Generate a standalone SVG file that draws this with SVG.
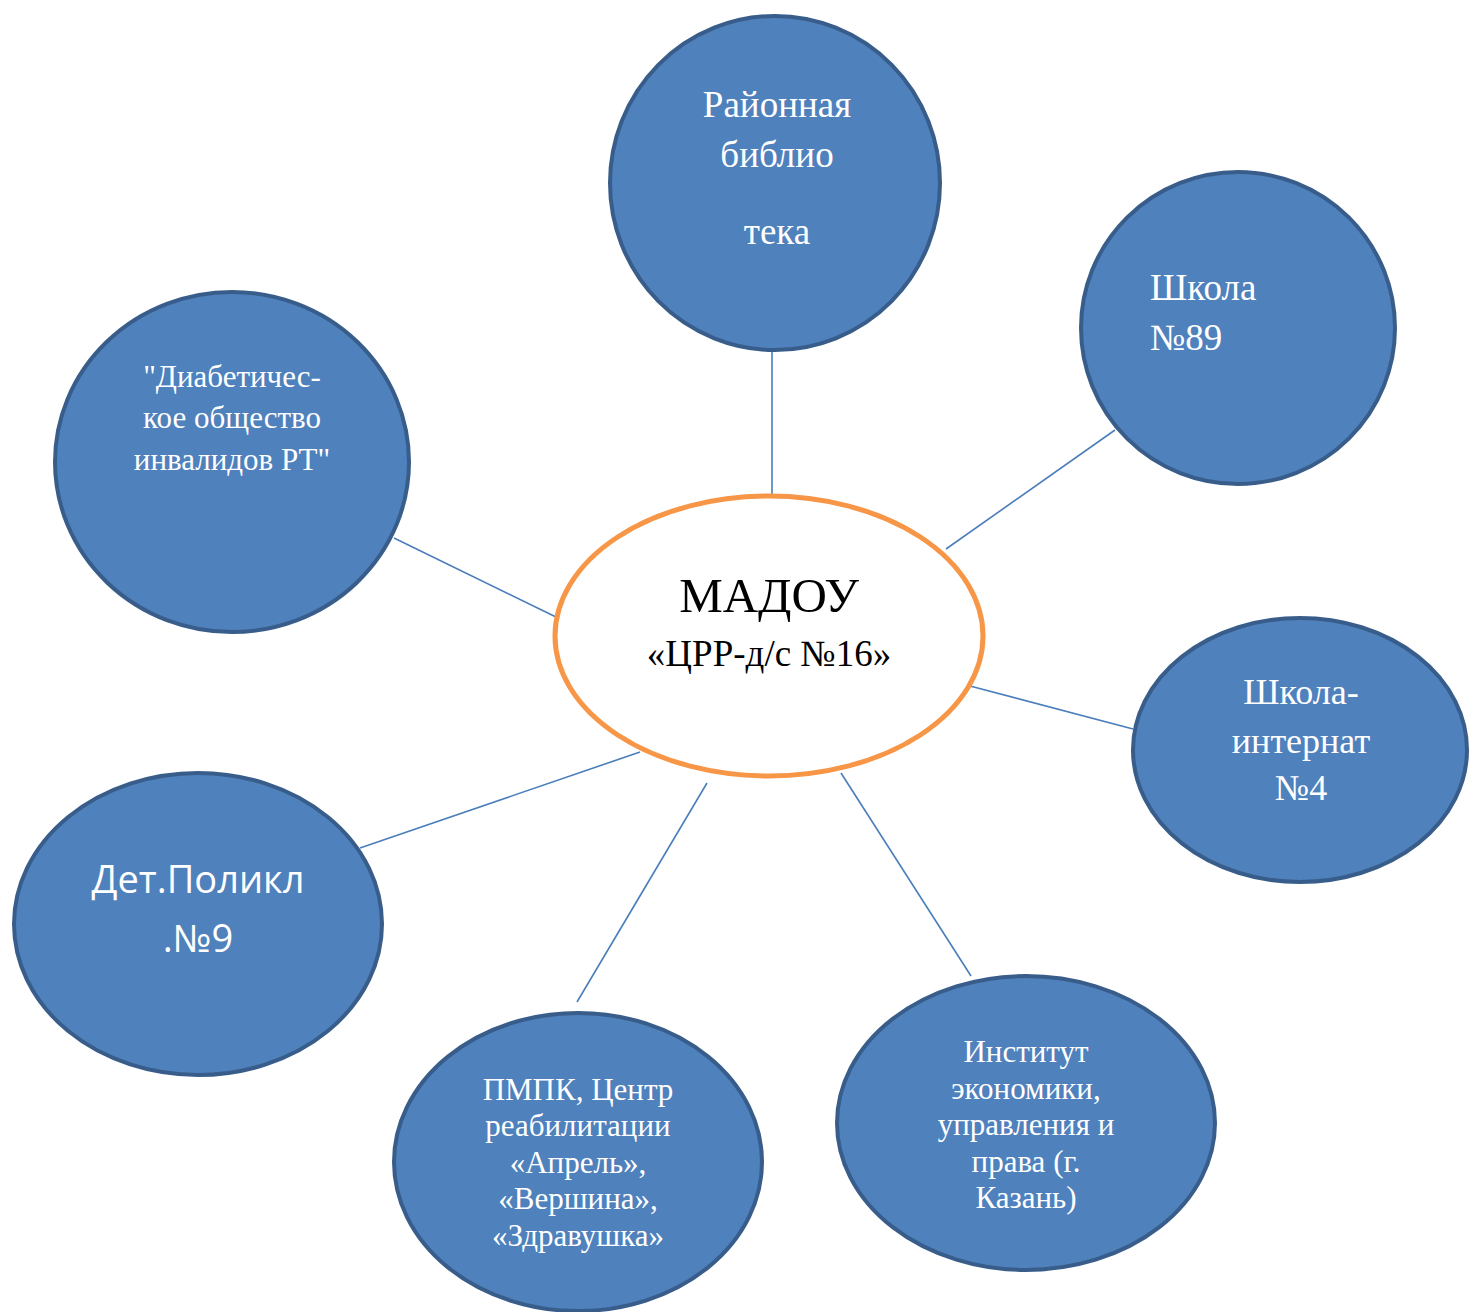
<svg xmlns="http://www.w3.org/2000/svg" width="1469" height="1312" viewBox="0 0 1469 1312">
<style>
.n{fill:#4F81BD;stroke:#385D8A;stroke-width:4}
.c{fill:#fff;stroke:#F79646;stroke-width:5}
.t{font-family:"Liberation Serif","Times New Roman",serif;fill:#fff;text-anchor:middle}
.s{font-family:"Open Sans","Liberation Sans",sans-serif;fill:#fff;text-anchor:middle}
.k{font-family:"Liberation Serif","Times New Roman",serif;fill:#000;text-anchor:middle}
#edges line{stroke:#4A7EBB;stroke-width:1.6}
</style>
<rect width="1469" height="1312" fill="#fff"/>
<g id="edges">
<line x1="772" y1="352" x2="772" y2="495"/>
<line x1="1115" y1="430" x2="946" y2="549"/>
<line x1="970" y1="686" x2="1133" y2="729"/>
<line x1="841" y1="773" x2="971" y2="976"/>
<line x1="707" y1="783" x2="577" y2="1002"/>
<line x1="640" y1="752" x2="360" y2="848"/>
<line x1="394" y1="538" x2="556" y2="617"/>
</g>
<g id="library">
<ellipse class="n" cx="775" cy="183" rx="165" ry="167"/>
<text class="t" font-size="37"><tspan x="777" y="117">Районная</tspan><tspan x="777" y="167">библио</tspan><tspan x="777" y="244">тека</tspan></text>
</g>
<g id="school89">
<ellipse class="n" cx="1238" cy="328" rx="157" ry="156"/>
<text class="t" font-size="37" style="text-anchor:start"><tspan x="1150" y="300">Школа</tspan><tspan x="1150" y="350">№89</tspan></text>
</g>
<g id="internat">
<ellipse class="n" cx="1300" cy="750" rx="167" ry="132"/>
<text class="t" font-size="36"><tspan x="1301" y="704">Школа-</tspan><tspan x="1301" y="753">интернат</tspan><tspan x="1301" y="800">№4</tspan></text>
</g>
<g id="institute">
<ellipse class="n" cx="1026" cy="1123" rx="189" ry="147"/>
<text class="t" font-size="31"><tspan x="1026" y="1062">Институт</tspan><tspan x="1026" y="1099">экономики,</tspan><tspan x="1026" y="1135">управления и</tspan><tspan x="1026" y="1172">права (г.</tspan><tspan x="1026" y="1208">Казань)</tspan></text>
</g>
<g id="pmpk">
<ellipse class="n" cx="578" cy="1162" rx="184" ry="149"/>
<text class="t" font-size="31"><tspan x="578" y="1100">ПМПК, Центр</tspan><tspan x="578" y="1136">реабилитации</tspan><tspan x="578" y="1173">«Апрель»,</tspan><tspan x="578" y="1209">«Вершина»,</tspan><tspan x="578" y="1246">«Здравушка»</tspan></text>
</g>
<g id="polyclinic">
<ellipse class="n" cx="198" cy="924" rx="184" ry="151"/>
<text class="s" font-size="38"><tspan x="198" y="893">Дет.Поликл</tspan><tspan x="198" y="952">.№9</tspan></text>
</g>
<g id="diabetic">
<ellipse class="n" cx="232" cy="462" rx="177" ry="170"/>
<text class="t" font-size="31"><tspan x="232" y="387">"Диабетичес-</tspan><tspan x="232" y="428">кое общество</tspan><tspan x="232" y="470">инвалидов РТ"</tspan></text>
</g>
<g id="center">
<ellipse class="c" cx="769" cy="636" rx="214" ry="140"/>
<text class="k"><tspan x="769" y="612" font-size="49">МАДОУ</tspan><tspan x="769" y="666" font-size="37">«ЦРР-д/с №16»</tspan></text>
</g>
</svg>
